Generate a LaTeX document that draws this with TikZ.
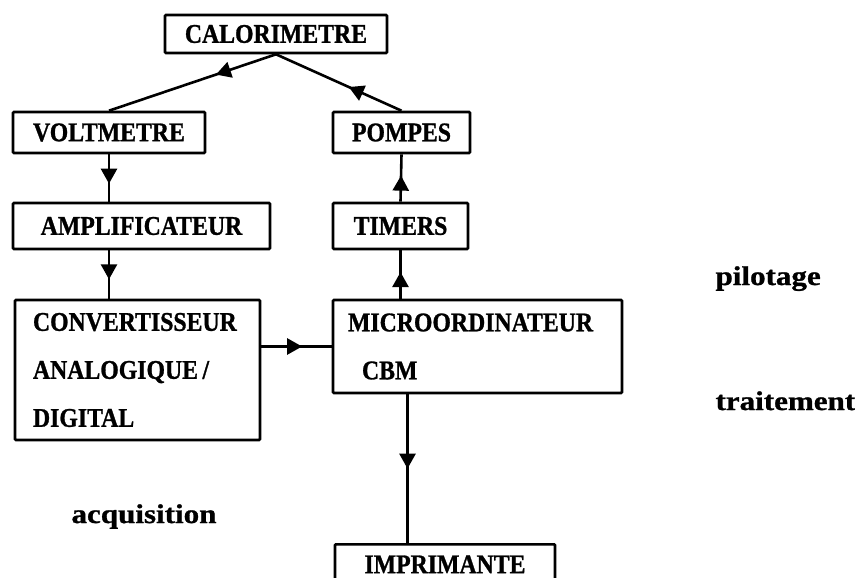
\documentclass[tikz,border=0pt]{standalone}
\usepackage{fontspec}
\setmainfont{Liberation Serif}
\newfontfamily\boxfont{Liberation Serif}[FakeStretch=0.88, FakeBold=1]
\newfontfamily\labfont{Liberation Serif}[FakeStretch=1.15, FakeBold=1]
\usetikzlibrary{arrows.meta, decorations.markings, calc}

\begin{document}
\begin{tikzpicture}[x=1pt, y=-1pt,
    box/.style={draw, line width=2.6pt, rounded corners=1pt, inner sep=0pt,
        font=\boxfont\bfseries\fontsize{27}{48}\selectfont},
    multi/.style={box, align=left, inner xsep=#1},
    flow/.style={line width=2.6pt, postaction={decorate},
        decoration={markings, mark=at position #1 with {\arrow{Triangle[length=15pt, width=16pt]}}}},
    flow/.default=0.5,
    stage/.style={anchor=base west, font=\labfont\bfseries\fontsize{27}{32}\selectfont},
]
    % Page frame
    \useasboundingbox (0,0) rectangle (855,578);
    \clip (0,0) rectangle (855,578);

    % Boxes
    \node[box, minimum width=222, minimum height=38] (calo) at (276,34) {CALORIMETRE};
    \node[box, minimum width=192, minimum height=41] (volt) at (109,132.5) {VOLTMETRE};
    \node[box, minimum width=137, minimum height=41] (pompes) at (401.5,132.5) {POMPES};
    \node[box, minimum width=257, minimum height=46] (ampli) at (141.5,226) {AMPLIFICATEUR};
    \node[box, minimum width=135, minimum height=46] (timers) at (400.5,226) {TIMERS};
    \node[multi=18pt, text width=209, minimum height=140] (conv) at (137.5,370)
        {CONVERTISSEUR\\ANALOGIQUE\,/\\DIGITAL};
    \node[multi=15pt, text width=259, minimum height=93] (micro) at (477.5,346.5)
        {MICROORDINATEUR\\\hspace*{14pt}CBM};
    \node[box, minimum width=220, minimum height=40, anchor=north] (impr) at (445,543) {IMPRIMANTE};

    % Connectors
    \draw[flow=0.36] (calo.south) -- (volt.north);
    \draw[flow=0.42] (pompes.north) -- (calo.south);
    \draw[flow=0.62] (volt.south) -- (volt.south |- ampli.north);
    \draw[flow=0.6] (ampli.south -| volt.south) -- (conv.north -| volt.south);
    \draw[flow=0.58] (conv.east |- micro.west) -- (micro.west);
    \draw[flow=0.55] (timers.south |- micro.north) -- (timers.south);
    \draw[flow=0.55] (timers.north) -- (pompes.south);
    \coordinate (out) at ($(micro.south west)!0.26!(micro.south east)$);
    \draw[flow=0.5] (out) -- (out |- impr.north);

    % Stage labels
    \node[stage] (pil) at (712,285) {pilotage};
    \node[stage] (trt) at (712,410) {traitement};
    \node[stage] (acq) at (68,523) {acquisition};
\end{tikzpicture}
\end{document}
